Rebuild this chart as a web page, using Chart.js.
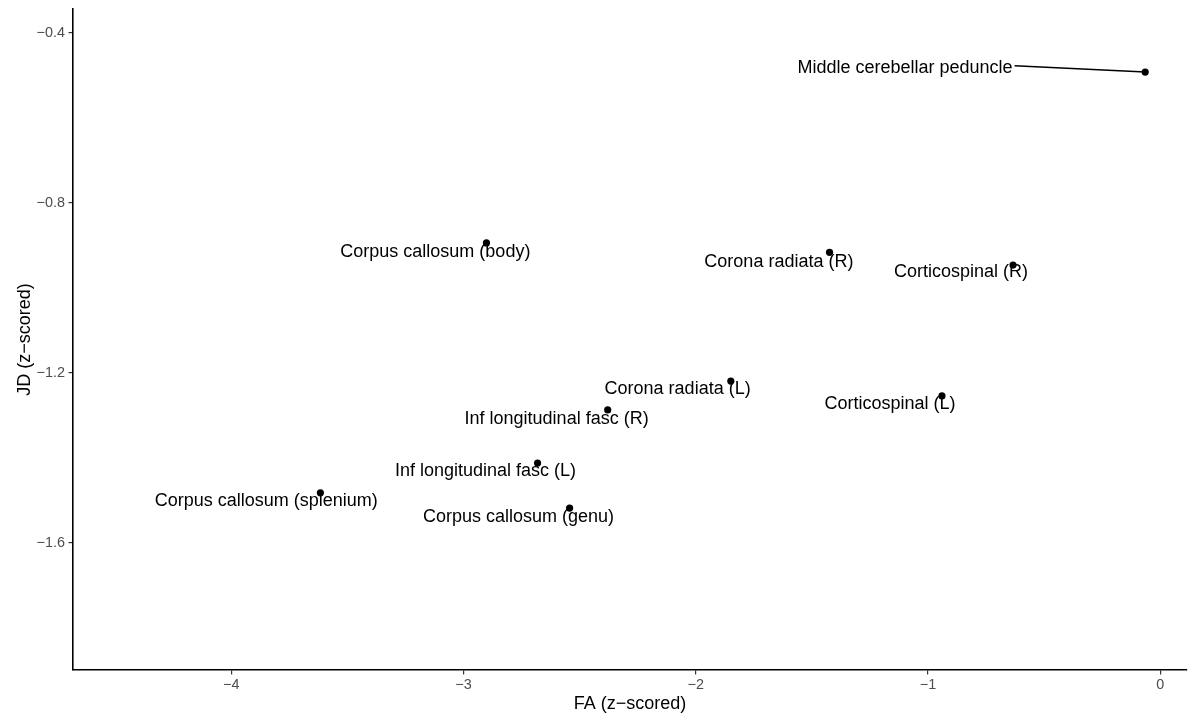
<!DOCTYPE html>
<html lang="en">

<head>
    <meta charset="UTF-8">
    <title>FA vs JD</title>
    <script src="https://cdn.jsdelivr.net/npm/chart.js"></script>
    <style>
        body { margin: 0; background: #fff; }
        #wrap { width: 1196px; height: 717px; }
    </style>
</head>

<body>
    <div id="wrap"><canvas id="myChart"></canvas></div>

    <script>
        // tract names and their z-scored values
        const tracts = [
            'Middle cerebellar peduncle', 'Corpus callosum (body)', 'Corona radiata (R)',
            'Corticospinal (R)', 'Corona radiata (L)', 'Corticospinal (L)',
            'Inf longitudinal fasc (R)', 'Inf longitudinal fasc (L)',
            'Corpus callosum (splenium)', 'Corpus callosum (genu)'
        ];
        const fa = [-0.065, -2.901, -1.424, -0.634, -1.849, -0.940, -2.379, -2.681, -3.616, -2.543];
        const jd = [-0.492, -0.894, -0.916, -0.946, -1.219, -1.254, -1.287, -1.412, -1.482, -1.518];

        // where the repelled labels ended up (data units, label centre)
        const labelFa = [-1.099, -3.121, -1.642, -0.858, -2.078, -1.164, -2.599, -2.905, -3.849, -2.763];
        const labelJd = [-0.482, -0.915, -0.939, -0.962, -1.238, -1.273, -1.308, -1.431, -1.501, -1.539];

        const xTicks = [-4, -3, -2, -1, 0];
        const yTicks = [-0.4, -0.8, -1.2, -1.6];

        const FONT = "'Liberation Sans', Arial, sans-serif";
        const minus = v => String(v).replace('-', '\u2212');

        const labelPlugin = {
            id: 'repelLabels',
            afterDatasetsDraw(chart) {
                const c = chart.ctx;
                const xs = chart.scales.x, ys = chart.scales.y;
                c.save();
                c.font = '18px ' + FONT;
                c.fillStyle = '#000';
                c.strokeStyle = '#000';
                c.textAlign = 'center';
                c.textBaseline = 'middle';
                tracts.forEach((name, i) => {
                    const lx = xs.getPixelForValue(labelFa[i]);
                    const ly = ys.getPixelForValue(labelJd[i]);
                    const px = xs.getPixelForValue(fa[i]);
                    const py = ys.getPixelForValue(jd[i]);
                    const w = c.measureText(name).width;
                    const left = lx - w / 2 - 2, right = lx + w / 2 + 2;
                    const top = ly - 11, bottom = ly + 11;
                    const nx = Math.max(left, Math.min(px, right));
                    const ny = Math.max(top, Math.min(py, bottom));
                    if (Math.hypot(px - nx, py - ny) > 15) {
                        // segment from the label edge to the point
                        const sx = px > right ? right : (px < left ? left : lx);
                        const sy = ly - 2;
                        c.lineWidth = 1.5;
                        c.beginPath();
                        c.moveTo(sx, sy);
                        c.lineTo(px, py);
                        c.stroke();
                    }
                    c.fillText(name, lx, ly);
                });
                c.restore();
            }
        };

        const ctx = document.getElementById('myChart');

        new Chart(ctx, {
            type: 'scatter',
            data: {
                datasets: [{
                    data: fa.map((v, i) => ({ x: v, y: jd[i] })),
                    backgroundColor: '#000',
                    borderWidth: 0,
                    pointRadius: 3.6,
                }]
            },
            options: {
                responsive: true,
                maintainAspectRatio: false,
                animation: false,
                layout: { padding: { top: 9, right: 9, left: 0, bottom: 0 } },
                plugins: {
                    legend: { display: false },
                    tooltip: { enabled: false }
                },
                scales: {
                    x: {
                        type: 'linear',
                        min: -4.681,
                        max: 0.115,
                        afterBuildTicks: axis => { axis.ticks = xTicks.map(v => ({ value: v })); },
                        afterFit: axis => {
                            axis.height = 47;
                            axis.paddingLeft = 0;
                            axis.paddingRight = 0;
                        },
                        ticks: {
                            callback: v => minus(v),
                            color: '#4d4d4d',
                            font: { family: FONT, size: 14.4 },
                            padding: 2,
                            maxRotation: 0
                        },
                        grid: {
                            drawOnChartArea: false,
                            drawTicks: true,
                            tickLength: 4.5,
                            color: '#333',
                            lineWidth: 1.2
                        },
                        border: { display: true, color: '#000', width: 1.6 },
                        title: {
                            display: true,
                            text: 'FA (z\u2212scored)',
                            color: '#000',
                            font: { family: FONT, size: 18 },
                            padding: { top: 0, bottom: 2 }
                        }
                    },
                    y: {
                        type: 'linear',
                        min: -1.899,
                        max: -0.3435,
                        afterBuildTicks: axis => { axis.ticks = yTicks.map(v => ({ value: v })); },
                        afterFit: axis => {
                            axis.width = 73;
                            axis.paddingTop = 0;
                            axis.paddingBottom = 0;
                        },
                        ticks: {
                            callback: v => minus(v),
                            color: '#4d4d4d',
                            font: { family: FONT, size: 14.4 },
                            padding: 3.5
                        },
                        grid: {
                            drawOnChartArea: false,
                            drawTicks: true,
                            tickLength: 4.5,
                            color: '#333',
                            lineWidth: 1.2
                        },
                        border: { display: true, color: '#000', width: 1.6 },
                        title: {
                            display: true,
                            text: 'JD (z\u2212scored)',
                            color: '#000',
                            font: { family: FONT, size: 18 },
                            padding: { top: 14, bottom: 0 }
                        }
                    }
                }
            },
            plugins: [labelPlugin]
        });
    </script>
</body>

</html>
